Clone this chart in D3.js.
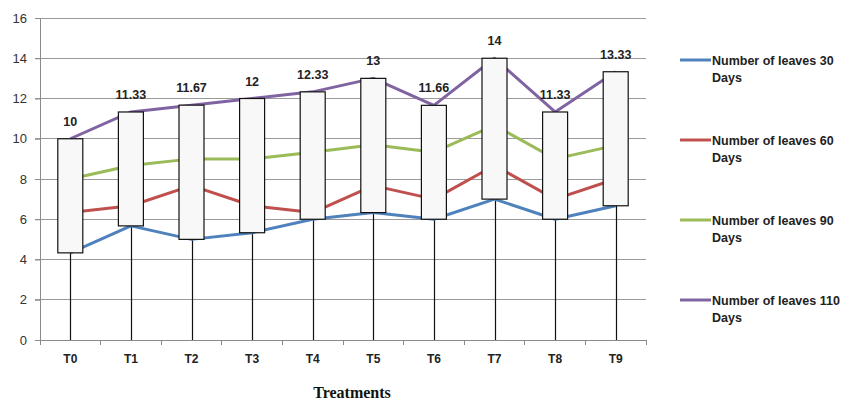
<!DOCTYPE html>
<html>
<head>
<meta charset="utf-8">
<script src="https://cdn.jsdelivr.net/npm/d3@7/dist/d3.min.js"></script>
<style>
  html, body { margin: 0; padding: 0; background: #fff; }
  svg { display: block; }
</style>
</head>
<body>
<svg id="chart" width="850" height="401"></svg>
<script>
// Treatments on the x axis
const categories = ["T0", "T1", "T2", "T3", "T4", "T5", "T6", "T7", "T8", "T9"];

// Mean number of leaves per treatment at each sampling date
const leaves30 = [4.33, 5.67, 5.0, 5.33, 6.0, 6.33, 6.0, 7.0, 6.0, 6.67];
const leaves60 = [6.33, 6.67, 7.67, 6.67, 6.33, 7.67, 7.0, 8.67, 7.0, 8.0];
const leaves90 = [8.0, 8.67, 9.0, 9.0, 9.33, 9.7, 9.33, 10.67, 9.0, 9.67];
const leaves110 = [10, 11.33, 11.67, 12, 12.33, 13, 11.66, 14, 11.33, 13.33];

const seriesNames = [
  "Number of leaves 30 Days",
  "Number of leaves 60 Days",
  "Number of leaves 90 Days",
  "Number of leaves 110 Days"
];
const seriesColors = ["#4f81bd", "#c0504d", "#9bbb59", "#8064a2"];
const yTicks = [0, 2, 4, 6, 8, 10, 12, 14, 16];

const series = [leaves30, leaves60, leaves90, leaves110].map((values, i) => ({
  name: seriesNames[i],
  color: seriesColors[i],
  values
}));

const svg = d3.select("#chart");
const plot = { left: 40, right: 646, top: 18, bottom: 340 };

const x = d3.scaleBand().domain(categories).range([plot.left, plot.right]);
const y = d3.scaleLinear().domain([0, 16]).range([plot.bottom, plot.top]);
const cx = c => x(c) + x.bandwidth() / 2;

// Horizontal gridlines
svg.append("g")
  .selectAll("line")
  .data(yTicks)
  .join("line")
  .attr("x1", plot.left - 5)
  .attr("x2", plot.right)
  .attr("y1", d => y(d))
  .attr("y2", d => y(d))
  .attr("stroke", "#9a9a9a")
  .attr("stroke-width", 1)
  .attr("shape-rendering", "crispEdges");

// Y axis
const yAxis = svg.append("g")
  .attr("transform", `translate(${plot.left},0)`)
  .call(d3.axisLeft(y).tickValues(yTicks).tickSize(5).tickPadding(8));
yAxis.select(".domain").attr("stroke", "#8a8a8a");
yAxis.selectAll(".tick line").attr("stroke", "#8a8a8a");
yAxis.selectAll("text")
  .attr("font-family", "'Liberation Sans', Arial, sans-serif")
  .attr("font-size", 13)
  .attr("fill", "#333");

// X axis with tick marks on the category boundaries
const xAxis = svg.append("g")
  .attr("transform", `translate(0,${plot.bottom})`)
  .call(d3.axisBottom(x).tickSize(0).tickPadding(14));
xAxis.select(".domain").attr("stroke", "#8a8a8a");
xAxis.selectAll("text")
  .attr("font-family", "'Liberation Sans', Arial, sans-serif")
  .attr("font-size", 12)
  .attr("font-weight", "bold")
  .attr("fill", "#222");
svg.append("g")
  .selectAll("line")
  .data(d3.range(categories.length + 1))
  .join("line")
  .attr("x1", i => plot.left + i * x.bandwidth())
  .attr("x2", i => plot.left + i * x.bandwidth())
  .attr("y1", plot.bottom)
  .attr("y2", plot.bottom + 5)
  .attr("stroke", "#8a8a8a")
  .attr("shape-rendering", "crispEdges");

// High-low lines
svg.append("g")
  .selectAll("line")
  .data(categories)
  .join("line")
  .attr("x1", c => Math.round(cx(c)) + 0.5)
  .attr("x2", c => Math.round(cx(c)) + 0.5)
  .attr("y1", y(0))
  .attr("y2", (c, i) => y(leaves110[i]))
  .attr("stroke", "#111")
  .attr("stroke-width", 1.2);

// Series lines
const line = d3.line()
  .x((d, i) => cx(categories[i]))
  .y(d => y(d));
svg.append("g")
  .selectAll("path")
  .data(series)
  .join("path")
  .attr("d", s => line(s.values))
  .attr("fill", "none")
  .attr("stroke", s => s.color)
  .attr("stroke-width", 3)
  .attr("stroke-linejoin", "round");

// Up bars between the 30-day and 110-day values
const barW = 25;
svg.append("g")
  .selectAll("rect")
  .data(categories)
  .join("rect")
  .attr("x", c => cx(c) - barW / 2)
  .attr("width", barW)
  .attr("y", (c, i) => y(Math.max(leaves30[i], leaves110[i])))
  .attr("height", (c, i) => Math.abs(y(leaves30[i]) - y(leaves110[i])))
  .attr("fill", "#f8f8f8")
  .attr("stroke", "#111")
  .attr("stroke-width", 1.2);

// Data labels on the 110-day series
svg.append("g")
  .selectAll("text")
  .data(categories)
  .join("text")
  .attr("x", c => cx(c))
  .attr("y", (c, i) => y(leaves110[i]) - 13)
  .attr("text-anchor", "middle")
  .attr("font-family", "'Liberation Sans', Arial, sans-serif")
  .attr("font-size", 12.5)
  .attr("font-weight", "bold")
  .attr("fill", "#222")
  .text((c, i) => leaves110[i]);

// X axis title
svg.append("text")
  .attr("x", 352)
  .attr("y", 398)
  .attr("text-anchor", "middle")
  .attr("font-family", "'Liberation Serif', 'Times New Roman', serif")
  .attr("font-size", 16)
  .attr("font-weight", "bold")
  .attr("fill", "#111")
  .text("Treatments");

// Legend
const legend = svg.append("g")
  .selectAll("g")
  .data(series)
  .join("g")
  .attr("transform", (d, i) => `translate(680,${60 + i * 80})`);
legend.append("line")
  .attr("x1", 0)
  .attr("x2", 31)
  .attr("stroke", d => d.color)
  .attr("stroke-width", 3);
const legendText = legend.append("text")
  .attr("font-family", "'Liberation Sans', Arial, sans-serif")
  .attr("font-size", 12.5)
  .attr("font-weight", "bold")
  .attr("fill", "#222");
legendText.append("tspan")
  .attr("x", 32)
  .attr("y", 5)
  .text(d => d.name.replace(/ Days$/, ""));
legendText.append("tspan")
  .attr("x", 32)
  .attr("y", 22)
  .text("Days");
</script>
</body>
</html>
